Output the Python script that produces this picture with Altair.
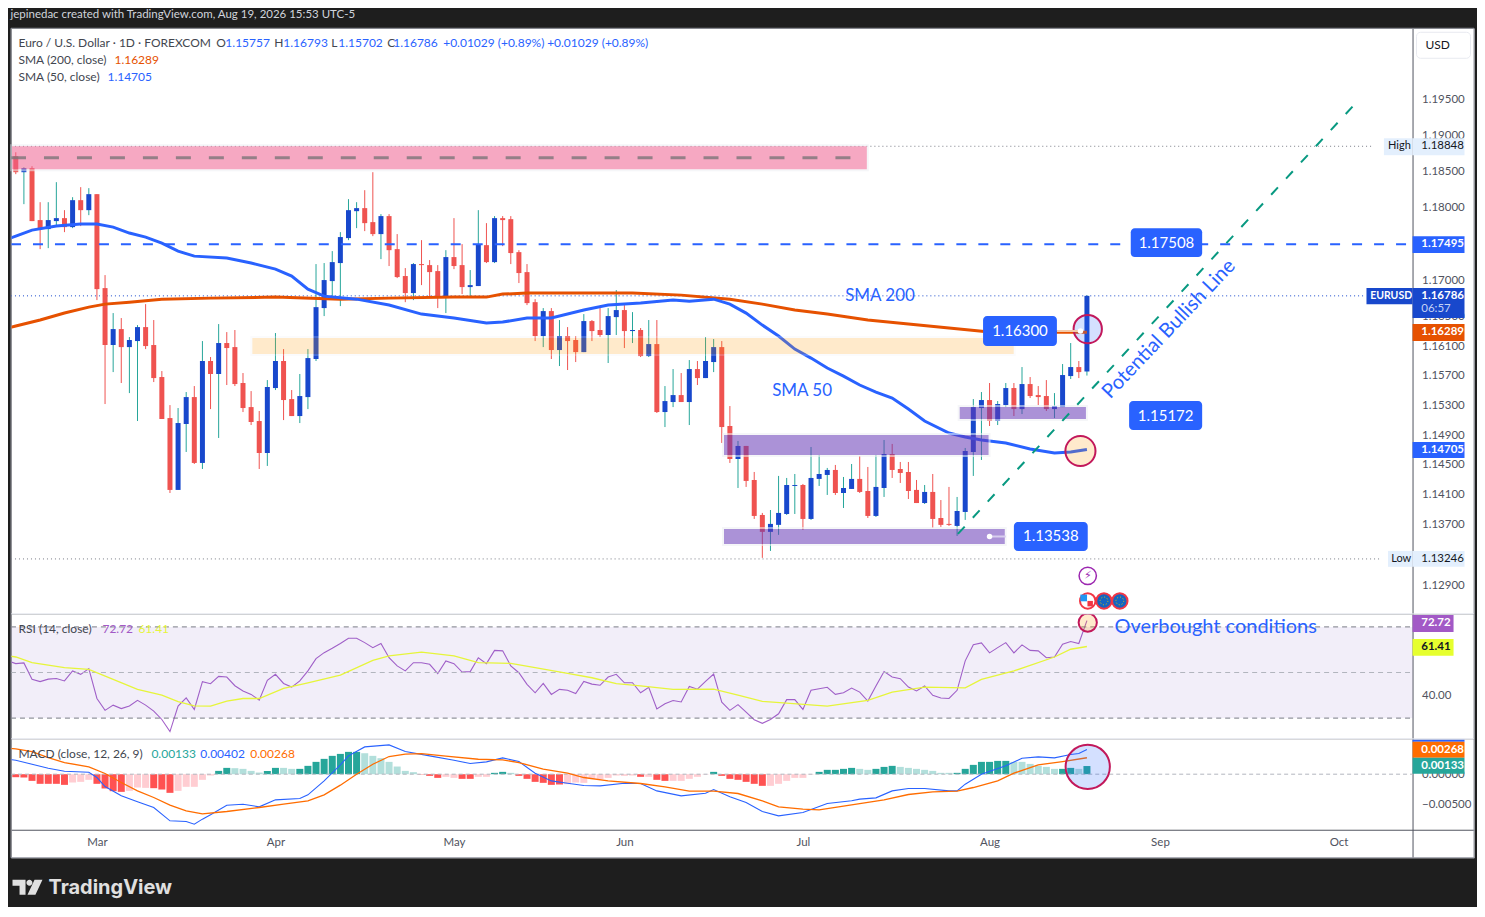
import altair as alt
import pandas as pd

FONT = "Lato"
BLUE = "#2962FF"; DBLUE = "#1848CC"; RED = "#EF5350"; TEAL = "#26A69A"; DARK = "#1E1E1E"
AX = "#50535E"; GREY = "#42464F"

first_bar = -10
opens = [1.18710,1.18488,1.18544,1.17826,1.17702,1.17812,1.17853,1.17729,1.18101,1.17963,
 1.18184,1.16892,1.16116,1.16333,1.16088,1.16170,1.16360,1.16116,1.15682,1.15128,
 1.14164,1.15048,1.15411,1.14525,1.15899,1.15723,1.16143,1.16088,1.15601,1.15276,
 1.15088,1.14658,1.15533,1.15899,1.15384,1.15155,1.15411,1.15926,1.16619,1.16988,
 1.17235,1.17578,1.17949,1.17991,1.17798,1.17633,1.17881,1.17426,1.17057,1.16824,
 1.17221,1.17207,1.17125,1.16769,1.17317,1.17207,1.16906,1.16920,1.17481,1.17248,
 1.17853,1.17839,1.17385,1.17111,1.16700,1.16238,1.16578,1.16048,1.16238,1.16184,
 1.16020,1.16442,1.16320,1.16252,1.16496,1.16592,1.16306,1.16320,1.15966,1.16129,
 1.15209,1.15344,1.15438,1.15344,1.15790,1.15668,1.15885,1.16088,1.15021,1.14578,
 1.14753,1.14297,1.13830,1.13605,1.13698,1.13843,1.14217,1.14230,1.13777,1.14311,
 1.14364,1.14431,1.14123,1.14177,1.14311,1.14150,1.13817,1.14190,1.14645,1.14444,
 1.14404,1.14164,1.13989,1.14137,1.13790,1.13711,1.13684,1.13870,1.14672,1.15263,
 1.15371,1.15088,1.15303,1.15533,1.15249,1.15587,1.15438,1.15425,1.15249,1.15276,
 1.15695,1.15817,1.15757]
highs = [1.18765,1.18557,1.18571,1.18073,1.18073,1.18350,1.17963,1.18142,1.18281,1.18267,
 1.18184,1.17070,1.16551,1.16483,1.16224,1.16387,1.16673,1.16456,1.15763,1.15303,
 1.15263,1.15479,1.15560,1.16170,1.15953,1.16401,1.16292,1.16320,1.15736,1.15492,
 1.15223,1.15641,1.16279,1.16061,1.15506,1.15723,1.16061,1.17221,1.17235,1.17399,
 1.17660,1.18115,1.18073,1.18239,1.18488,1.17908,1.17908,1.17633,1.17166,1.17235,
 1.17550,1.17276,1.17207,1.17412,1.17853,1.17495,1.17139,1.17963,1.17784,1.17881,
 1.17881,1.17881,1.17412,1.17221,1.16741,1.16619,1.16619,1.16456,1.16360,1.16238,
 1.16537,1.16456,1.16619,1.16619,1.16865,1.16660,1.16564,1.16347,1.16456,1.16456,
 1.15560,1.15790,1.15736,1.15912,1.15899,1.16224,1.16197,1.16170,1.15290,1.14820,
 1.14753,1.14404,1.13857,1.13896,1.14351,1.14324,1.14377,1.14244,1.14739,1.14632,
 1.14458,1.14498,1.14337,1.14511,1.14618,1.14471,1.14632,1.14833,1.14780,1.14538,
 1.14538,1.14297,1.14230,1.14377,1.14029,1.14204,1.14070,1.14726,1.15384,1.15479,
 1.15601,1.15357,1.15601,1.15601,1.15817,1.15682,1.15560,1.15641,1.15465,1.15858,
 1.16143,1.15899,1.16793]
lows = [1.18461,1.18046,1.17812,1.17426,1.17440,1.17743,1.17660,1.17715,1.17743,1.17894,
 1.16728,1.15317,1.15749,1.15601,1.15465,1.15088,1.16061,1.15614,1.15115,1.14123,
 1.14164,1.14672,1.14511,1.14444,1.15249,1.14860,1.15574,1.15560,1.15209,1.15034,
 1.14444,1.14485,1.15506,1.15101,1.15155,1.15061,1.15249,1.15899,1.16510,1.16782,
 1.16646,1.17550,1.17715,1.17674,1.17605,1.17289,1.17194,1.17029,1.16700,1.16728,
 1.16933,1.16769,1.16619,1.16551,1.17152,1.16810,1.16769,1.16920,1.17235,1.17235,
 1.17467,1.17221,1.16961,1.16660,1.16170,1.16088,1.15926,1.15831,1.15777,1.15885,
 1.16020,1.16170,1.16224,1.15872,1.16252,1.16075,1.16143,1.15953,1.15953,1.15196,
 1.15007,1.15276,1.15344,1.15034,1.15574,1.15668,1.15749,1.14793,1.14525,1.14190,
 1.14204,1.13777,1.13260,1.13352,1.13565,1.13830,1.13843,1.13631,1.13764,1.14217,
 1.14097,1.14097,1.13923,1.14177,1.14123,1.13790,1.13803,1.14070,1.14324,1.14257,
 1.14043,1.13989,1.13976,1.13658,1.13671,1.13684,1.13551,1.13764,1.14351,1.14565,
 1.15021,1.15034,1.15276,1.15155,1.15182,1.15398,1.15303,1.15223,1.15128,1.15276,
 1.15655,1.15668,1.15702]
closes = [1.18488,1.18544,1.17812,1.17702,1.17826,1.17853,1.17729,1.18101,1.17963,1.18184,
 1.16878,1.16116,1.16333,1.16088,1.16184,1.16360,1.16102,1.15668,1.15115,1.14164,
 1.15061,1.15411,1.14525,1.15899,1.15723,1.16143,1.16075,1.15587,1.15263,1.15075,
 1.14658,1.15546,1.15899,1.15371,1.15155,1.15425,1.15939,1.16632,1.17002,1.17248,
 1.17592,1.17963,1.17991,1.17784,1.17633,1.17881,1.17412,1.17043,1.16824,1.17221,
 1.17207,1.17111,1.16769,1.17317,1.17194,1.16906,1.16933,1.17495,1.17248,1.17853,
 1.17826,1.17372,1.17098,1.16687,1.16238,1.16578,1.16048,1.16238,1.16170,1.16020,
 1.16442,1.16306,1.16252,1.16510,1.16592,1.16306,1.16320,1.15966,1.16129,1.15209,
 1.15357,1.15438,1.15344,1.15790,1.15668,1.15899,1.16088,1.15007,1.14578,1.14753,
 1.14284,1.13817,1.13605,1.13711,1.13857,1.14230,1.14230,1.13777,1.14324,1.14377,
 1.14431,1.14123,1.14190,1.14311,1.14137,1.13817,1.14204,1.14645,1.14431,1.14391,
 1.14150,1.13989,1.14137,1.13777,1.13698,1.13698,1.13883,1.14685,1.15276,1.15371,
 1.15088,1.15317,1.15533,1.15249,1.15587,1.15425,1.15411,1.15249,1.15290,1.15709,
 1.15817,1.15749,1.16786]

sma200_i = [-11,-10,-7,-4,-1,1,4,8,14,22,30,36,44,48,50,53,60,66,72,78,82,86,90,95,100,105,110,122]
sma200_v = [1.16347,1.16374,1.16456,1.16551,1.16632,1.16673,1.16700,1.16741,1.16755,1.16769,1.16741,1.16755,1.16769,1.16769,
 1.16810,1.16824,1.16824,1.16824,1.16796,1.16741,1.16673,1.16592,1.16537,1.16456,1.16401,1.16347,1.16292,1.16289]
sma50_i = [-11,-10,-8,-5,-2,0,2,4,6,8,10,12,16,19,22,24,26,28,32,36,40,44,48,50,53,56,60,63,67,71,73,76,78,80,82,84,86,88,90,92,94,96,98,100,102,105,107,109,112,115,118,120,122]
sma50_v = [1.17564,1.17605,1.17688,1.17743,1.17771,1.17771,1.17729,1.17647,1.17592,1.17509,1.17399,1.17330,1.17303,1.17235,1.17152,1.17057,
 1.16878,1.16782,1.16741,1.16660,1.16537,1.16483,1.16415,1.16428,1.16483,1.16483,1.16592,1.16660,1.16687,1.16728,1.16714,1.16741,1.16673,
 1.16551,1.16387,1.16238,1.16061,1.15939,1.15804,1.15695,1.15574,1.15479,1.15398,1.15249,1.15088,1.14927,1.14873,1.14833,1.14793,1.14713,1.14658,1.14672,1.14705]

rsi_v = [55.1,53.9,54.2,47.0,46.0,47.1,47.4,46.3,50.7,49.2,51.7,38.6,33.4,35.7,34.2,35.3,37.8,35.7,33.1,29.4,24.1,35.3,38.9,33.8,46.0,45.1,48.3,48.0,44.2,41.9,40.4,37.9,46.6,49.2,45.2,43.6,46.3,50.7,56.1,58.7,60.6,62.7,65.0,65.0,63.1,60.9,62.7,56.5,52.9,50.7,54.3,54.3,53.6,49.5,55.1,53.9,50.2,50.4,56.5,53.9,59.7,59.5,52.9,49.9,44.8,41.1,45.2,40.4,42.6,42.2,
 40.8,46.1,44.9,44.4,48.0,49.2,45.5,45.5,41.1,43.5,34.0,36.3,37.7,37.1,43.9,42.7,46.1,49.3,37.0,33.4,35.9,32.6,29.3,27.7,29.4,31.9,38.1,38.1,33.8,42.2,42.9,43.5,40.4,41.1,43.2,41.4,37.5,44.1,50.4,48.0,47.3,43.6,41.9,44.1,40.0,38.8,38.6,42.2,55.1,62.2,63.0,58.6,60.9,63.1,58.6,62.1,59.7,59.5,56.5,56.8,62.4,63.6,62.7,72.72]
rsi_ma_i = [-11,-10,-8,-6,-4,-1,2,5,8,10,12,14,16,18,20,23,26,30,34,36,40,44,47,51,54,58,61,64,67,71,76,79,82,85,90,95,98,102,107,109,113,118,120,122]
rsi_ma_v = [57.3,56.8,54.3,53.2,52.1,51.4,47.0,42.6,40.1,37.2,35.4,35.3,37.5,38.6,38.6,43.0,45.5,48.9,55.3,57.3,58.9,57.3,54.3,54.0,52.1,49.6,47.7,45.1,44.1,42.6,42.7,40.1,37.3,36.6,35.3,37.8,41.4,43.6,43.3,47.0,50.7,56.8,60.2,61.41]

macd_i = [-11,-10,-8,-6,-4,-1,0,1,3,5,7,9,11,12,13,14,16,18,20,22,25,26,28,30,31,33,36,38,41,44,46,48,50,52,54,56,58,60,62,65,67,69,72,75,76,78,80,82,84,87,90,93,94,96,98,100,102,105,106,107,109,112,114,116,118,120,121,122]
macd_v = [.00244,.00228,.00163,.00098,.00049,.00033,-.00054,-.00201,-.00353,-.00451,-.00543,-.0076,-.00771,-.00815,-.00733,-.00662,-.00505,-.00489,-.00532,-.00418,-.00396,-.00337,-.00109,.00152,.00299,.00445,.00478,.00369,.00299,.00228,.00174,.00201,.00266,.00206,.00016,-.00109,-.00147,-.00185,-.0019,-.00147,-.00152,-.00272,-.00353,-.0031,-.0025,-.00369,-.00462,-.00608,-.00679,-.00624,-.00478,-.00434,-.00407,-.00386,-.00272,-.00233,-.00233,-.00272,-.00272,-.00163,0,.00136,.00261,.00282,.00266,.0032,.00337,.00402]
signal_i = [-11,-10,-8,-6,-4,-1,1,3,5,7,9,11,13,16,20,23,26,28,30,32,34,36,38,40,43,47,50,52,55,58,60,63,67,70,73,76,79,82,84,87,89,93,97,100,103,106,108,111,113,116,119,122]
signal_v = [.00423,.00413,.00369,.00272,.0019,.00119,.00011,-.00136,-.00272,-.0038,-.00505,-.00597,-.00646,-.00608,-.00543,-.00489,-.00434,-.00337,-.00179,0,.00163,.00288,.00326,.00337,.00293,.00244,.00233,.0019,.00081,.00016,-.00054,-.00109,-.00152,-.00206,-.00277,-.00277,-.00315,-.00434,-.00532,-.0057,-.00581,-.005,-.00418,-.00331,-.00288,-.00277,-.00217,-.00109,.00016,.00152,.00206,.00268]
hist_v = [-.00049,-.00054,-.00109,-.00157,-.00157,-.00157,-.00174,-.00136,-.00125,-.00092,-.00157,-.00233,-.00277,-.00288,-.00272,-.00217,-.00223,-.00228,-.0025,-.00304,-.00272,-.00206,-.00206,-.00092,-.00022,
 .00054,.00103,.00098,.00087,.00054,.00027,.00054,.00103,.00103,.00087,.00087,.00136,.00201,.0025,.00299,.00331,.00364,.00364,.00342,.00299,.00261,.00201,.00125,.00054,.00033,
 -.00005,-.00027,-.0006,-.00043,-.0006,-.00076,-.00076,-.00043,-.00043,.00022,.00038,.00022,-.00027,-.00076,-.00125,-.00141,-.00174,-.00168,-.00163,-.00136,-.00141,-.00081,-.00081,-.0006,-.00022,-.00027,-.00022,-.00043,-.00043,-.00092,-.00109,-.00109,-.00109,-.00076,-.00043,-.00005,
 .00038,-.00027,-.00076,-.00092,-.00125,-.00157,-.0019,-.0019,-.00157,-.00109,-.0006,-.0006,-.00005,.00038,.00071,.00071,.00087,.00103,.00087,.00071,.00087,.00119,.00136,.00119,.00103,.00087,.00071,.00054,.00022,.00022,.00022,.00087,.00152,.00201,.00201,.00217,.00217,.00201,.00201,.00168,.00136,.00119,.00087,.00087,.00103,.00087,.00133]
hist_shade = list("DDDDDDDLLLDDDDLLLDDDLLLLL" "DDLLLLDDLLDDDDDDDDLLLLLLL" "DDDLLDDLLDDLDDDDDDLLLLLLLLLDLDDLLLLL"
 "DDDDDDDLLLLLLDDDDDLLDDDLLLLLLLDDDDDDDLLLLLLDDLD")

month_ticks = [0,22,44,65,87,110,131,153]
month_names = ["Mar","Apr","May","Jun","Jul","Aug","Sep","Oct"]
price_ticks = [1.195,1.19,1.185,1.18,1.17,1.165,1.161,1.157,1.153,1.149,1.145,1.141,1.137,1.129]

W = 1464
X0 = 10.5
Y0 = 27
x_scale = alt.Scale(domain=[-10.59,169.7], nice=False, zero=False, padding=0)
p_scale = alt.Scale(type="log", domain=[1.1252,1.2050], nice=False, zero=False)
r_scale = alt.Scale(domain=[20.93,75.7], nice=False, zero=False)
m_scale = alt.Scale(domain=[-.01362,.00577], nice=False, zero=False)
AXIS_EDGE = 162.13
XMIN = -10.59
ONE = alt.Data(values=[{"a":1}])

def yaxis(values, fmt):
    return alt.Axis(orient="right", offset=-61.5, values=values, format=fmt, title=None, grid=False, ticks=False,
                    labelPadding=9, labelFont=FONT, labelFontSize=11.5, labelColor=AX, domainColor=AX, labelOverlap=False, labelFlush=False)

Y_AXES = {id(p_scale): yaxis(price_ticks, ".5f"), id(r_scale): yaxis([40], ".2f"), id(m_scale): yaxis([0,-.005], ".5f")}
month_axis = alt.Axis(orient="bottom", offset=-28, values=month_ticks, title=None, grid=False, ticks=False, labelPadding=7,
                      labelFont=FONT, labelFontSize=11.5, labelColor=AX, domainColor=AX, labelFlush=False,
                      labelExpr="%s[indexof(%s, datum.value)]" % (month_names, month_ticks))

def X(f="i:Q", sc=None):
    return alt.X(f, scale=x_scale, axis=month_axis if sc is m_scale else None)

def Y(f, sc):
    return alt.Y(f, scale=sc, axis=Y_AXES[id(sc)])

def frame_text(t, x, y, base, color=GREY, size=12, weight="normal", align="left", font=FONT):
    return alt.Chart(ONE).mark_text(text=t, color=color, fontSize=size, fontWeight=weight, align=align, baseline="middle", font=font).encode(
        x=alt.value(x-X0), y=alt.value(y-base))

def data_text(t, i, v, sc, color=BLUE, size=12, weight="normal", align="center", angle=0, font=FONT):
    d = pd.DataFrame({"i":[i],"v":[v]})
    return alt.Chart(d).mark_text(text=t, color=color, fontSize=size, fontWeight=weight, align=align, baseline="middle", angle=angle, font=font).encode(
        X(sc=sc), Y("v:Q", sc))

def rect(i0, i1, v0, v1, sc, color, opacity=1.0, radius=0, stroke=None):
    d = pd.DataFrame({"i":[i0],"i2":[i1],"v":[v0],"v2":[v1]})
    kw = dict(color=color, opacity=opacity, cornerRadius=radius)
    if stroke:
        kw.update(stroke=stroke, strokeWidth=2, strokeOpacity=1)
    return alt.Chart(d).mark_rect(**kw).encode(X(sc=sc), alt.X2("i2:Q"), Y("v:Q", sc), alt.Y2("v2:Q"))

def hline(v, sc, color, dash, width=1, i0=XMIN, i1=AXIS_EDGE, opacity=1.0):
    d = pd.DataFrame({"i":[i0],"i2":[i1],"v":[v]})
    return alt.Chart(d).mark_rule(color=color, strokeDash=dash, strokeWidth=width, opacity=opacity).encode(
        X(sc=sc), alt.X2("i2:Q"), Y("v:Q", sc))

def line(idx, vals, sc, color, width):
    d = pd.DataFrame({"i":idx,"v":vals})
    return alt.Chart(d).mark_line(color=color, strokeWidth=width, clip=True, interpolate="linear").encode(
        X(sc=sc), Y("v:Q", sc))

def dot(i, v, sc, size, fill=None, stroke=None, sw=2, fo=1.0, shape="circle", dash=None, clip=False):
    d = pd.DataFrame({"i":[i],"v":[v]})
    kw = dict(shape=shape, size=size, opacity=1, clip=clip, filled=True, fillOpacity=fo)
    kw["fill"] = fill if fill else "transparent"
    if stroke:
        kw.update(stroke=stroke, strokeWidth=sw)
    if dash:
        kw.update(strokeDash=dash)
    return alt.Chart(d).mark_point(**kw).encode(X(sc=sc), Y("v:Q", sc))

def pix_rule(x1, x2, y1, y2, color, width=1):
    return alt.Chart(ONE).mark_rule(color=color, strokeWidth=width).encode(
        x=alt.value(x1), x2=alt.value(x2), y=alt.value(y1), y2=alt.value(y2))

idx = list(range(first_bar, first_bar+len(opens)))
candles = pd.DataFrame({"i":idx,"o":opens,"h":highs,"l":lows,"c":closes})
is_up = "datum.c >= datum.o"

P_H = 586
wick = alt.Chart(candles).mark_rule(strokeWidth=1).encode(
    X(), Y("l:Q", p_scale), alt.Y2("h:Q"),
    color=alt.condition(is_up, alt.value(TEAL), alt.value(RED)))
body = alt.Chart(candles).mark_bar(size=5, orient="vertical").encode(
    X(), Y("o:Q", p_scale), alt.Y2("c:Q"),
    color=alt.condition(is_up, alt.value(DBLUE), alt.value(RED)))

price_panel = alt.layer(
    pix_rule(-2, -2, -18.5, 0, DARK),
    pix_rule(-2, W+2, -18.5, -18.5, DARK),
    hline(1.18848, p_scale, "#787B86", [1,3], i1=157.3),
    hline(1.13246, p_scale, "#787B86", [1,3], i1=158),
    hline(1.16786, p_scale, DBLUE, [1,3], i1=156.4),
    wick, body,
    line(sma200_i, sma200_v, p_scale, "#E65100", 3),
    line(sma50_i, sma50_v, p_scale, "#2962FF", 3),
    rect(XMIN, 95.0, 1.18862, 1.18516, p_scale, "#F06292", .55, stroke="#EEF0F4"),
    rect(19.03, 113.1, 1.16224, 1.15980, p_scale, "#FF9800", .2, stroke="#EEF0F4"),
    rect(77.15, 110.0, 1.14913, 1.14618, p_scale, "#673AB7", .55, stroke="#EEF0F4"),
    rect(106.2, 122.0, 1.15290, 1.15101, p_scale, "#673AB7", .55, stroke="#EEF0F4"),
    rect(77.15, 112.0, 1.13658, 1.13432, p_scale, "#673AB7", .55, stroke="#EEF0F4"),
    hline(1.18687, p_scale, "#7C7478", [15,18], 3, i1=95.0, opacity=.8),
    hline(1.17495, p_scale, BLUE, [10,12], 2, i1=161.8),
    alt.Chart(pd.DataFrame({"i":[106.1,155.0],"v":[1.13578,1.19434]})).mark_line(color="#089981", strokeWidth=2, strokeDash=[10,12]).encode(
        X(), Y("v:Q", p_scale)),
    dot(122.1, 1.16333, p_scale, 804, fill=BLUE, stroke="#C2185B", fo=.2),
    dot(121.2, 1.14685, p_scale, 908, fill="#FF9800", stroke="#C2185B", fo=.2),
    hline(1.16306, p_scale, "#F3C9A8", [1,0], 2, i0=118.3, i1=121.2),
    dot(121.2, 1.16306, p_scale, 30, fill="white"),
    hline(1.13545, p_scale, "#D8CEEE", [1,0], 2, i0=110.0, i1=112.0),
    dot(110.0, 1.13545, p_scale, 30, fill="white"),
    rect(109.2, 118.3, 1.16510, 1.16102, p_scale, BLUE, radius=4),
    data_text("1.16300", 113.75, 1.16306, p_scale, "white", 15),
    rect(127.4, 136.2, 1.17715, 1.17317, p_scale, BLUE, radius=4),
    data_text("1.17508", 131.8, 1.17516, p_scale, "white", 15),
    rect(127.2, 136.2, 1.15357, 1.14967, p_scale, BLUE, radius=4),
    data_text("1.15172", 131.7, 1.15162, p_scale, "white", 15),
    rect(113.0, 122.1, 1.13737, 1.13352, p_scale, BLUE, radius=4),
    data_text("1.13538", 117.55, 1.13545, p_scale, "white", 15),
    data_text("SMA 200", 96.5, 1.16782, p_scale, BLUE, 17),
    data_text("SMA 50", 86.9, 1.15492, p_scale, BLUE, 17),
    data_text("Potential Bullish Line", 132.1, 1.16333, p_scale, BLUE, 20, angle=313.5),
    # event icons
    dot(122.1, 1.13022, p_scale, 300, fill="white", stroke="#9C27B0", sw=1.5),
    data_text("\u26A1", 122.1, 1.13022, p_scale, "#9C27B0", 11, font="DejaVu Sans"),
    dot(122.1, 1.12691, p_scale, 240, fill="white", stroke="#F23645", sw=2),
    dot(121.6, 1.12730, p_scale, 45, fill="#2196F3", shape="square"),
    dot(122.4, 1.12655, p_scale, 30, fill="#F23645", shape="square"),
    dot(124.1, 1.12691, p_scale, 240, fill="#1565C0", stroke="#F23645", sw=2),
    dot(124.1, 1.12691, p_scale, 60, fill="transparent", stroke="#E6C200", sw=1, dash=[1,2]),
    dot(126.05, 1.12691, p_scale, 240, fill="#1565C0", stroke="#F23645", sw=2),
    dot(126.05, 1.12691, p_scale, 60, fill="transparent", stroke="#E6C200", sw=1, dash=[1,2]),
    # price tags
    rect(158.6, AXIS_EDGE, 1.18959, 1.18724, p_scale, "#E3EFFD"),
    rect(AXIS_EDGE, 168.53, 1.18959, 1.18724, p_scale, "#E3EFFD"),
    data_text("High", 159.1, 1.18848, p_scale, "#131722", 11, align="left"),
    data_text("1.18848", 163.2, 1.18848, p_scale, "#131722", 11.5, align="left"),
    rect(AXIS_EDGE, 168.53, 1.17605, 1.17372, p_scale, BLUE),
    data_text("1.17495", 163.2, 1.17495, p_scale, "white", 11.5, "bold", align="left"),
    rect(156.45, AXIS_EDGE, 1.16892, 1.16673, p_scale, DBLUE),
    data_text("EURUSD", 156.9, 1.16782, p_scale, "white", 10.5, "bold", align="left"),
    rect(AXIS_EDGE, 168.53, 1.16892, 1.16483, p_scale, DBLUE),
    data_text("1.16786", 163.2, 1.16782, p_scale, "white", 11.5, "bold", align="left"),
    data_text("06:57", 163.2, 1.16605, p_scale, "#C4D2F5", 11.5, align="left"),
    rect(AXIS_EDGE, 168.53, 1.16401, 1.16170, p_scale, "#E65100"),
    data_text("1.16289", 163.2, 1.16289, p_scale, "white", 11.5, "bold", align="left"),
    rect(AXIS_EDGE, 168.53, 1.14806, 1.14591, p_scale, BLUE),
    data_text("1.14705", 163.2, 1.14705, p_scale, "white", 11.5, "bold", align="left"),
    rect(159.1, AXIS_EDGE, 1.13352, 1.13141, p_scale, "#E3EFFD"),
    rect(AXIS_EDGE, 168.53, 1.13352, 1.13141, p_scale, "#E3EFFD"),
    data_text("Low", 159.5, 1.13246, p_scale, "#131722", 11, align="left"),
    data_text("1.13246", 163.2, 1.13246, p_scale, "#131722", 11.5, align="left"),
    # USD button
    alt.Chart(ONE).mark_rect(fill="white", stroke="#E8EAF0", strokeWidth=1, cornerRadius=4).encode(
        x=alt.value(1417-X0), x2=alt.value(1471-X0), y=alt.value(31-Y0), y2=alt.value(57-Y0)),
    frame_text("USD", 1426, 44, Y0, "#131722", 12),
    # status lines
    frame_text("jepinedac created with TradingView.com, Aug 19, 2026 15:53 UTC-5", 10, 14, Y0, "#D1D4DC", 11.5),
    frame_text("Euro / U.S. Dollar \u00B7 1D \u00B7 FOREXCOM", 18, 42, Y0),
    frame_text("O", 216, 42, Y0), frame_text("1.15757", 225, 42, Y0, BLUE),
    frame_text("H", 274, 42, Y0), frame_text("1.16793", 283, 42, Y0, BLUE),
    frame_text("L", 331, 42, Y0), frame_text("1.15702", 338, 42, Y0, BLUE),
    frame_text("C", 387, 42, Y0), frame_text("1.16786", 393, 42, Y0, BLUE),
    frame_text("+0.01029 (+0.89%)", 443, 42, Y0, BLUE),
    frame_text("+0.01029 (+0.89%)", 547, 42, Y0, BLUE),
    frame_text("SMA (200, close)", 18, 59, Y0), frame_text("1.16289", 114, 59, Y0, "#E65100"),
    frame_text("SMA (50, close)", 18, 76, Y0), frame_text("1.14705", 107, 76, Y0, BLUE),
    pix_rule(0, 0, 0, P_H, "#9598A1"),
    pix_rule(W, W, 0, P_H, "#9598A1"),
    pix_rule(0, W, 0, 0, "#9598A1"),
).properties(width=W, height=P_H)

R_H = 125
rsi_df = pd.DataFrame({"i":list(range(-11,123)),"v":rsi_v})
rsi_line = alt.Chart(rsi_df).mark_line(color="#A461C9", strokeWidth=1.1, clip=True).encode(
    X(), Y("v:Q", r_scale))
rsi_panel = alt.layer(
    rsi_line,
    rect(XMIN, AXIS_EDGE, 70, 30, r_scale, "#7E57C2", .1),
    hline(70, r_scale, "#787B86", [5,4]),
    hline(50, r_scale, "#B2B5BE", [5,4]),
    hline(30, r_scale, "#787B86", [5,4]),
    line(rsi_ma_i, rsi_ma_v, r_scale, "#E6F53A", 1.3),
    dot(122.1, 71.9, r_scale, 333, fill="#FF9800", stroke="#C2185B", fo=.2, clip=True),
    data_text("Overbought conditions", 125.4, 70, r_scale, BLUE, 20, align="left"),
    rect(AXIS_EDGE, 167.18, 75.26, 67.8, r_scale, "#A259C6"),
    data_text("72.72", 163.2, 71.5, r_scale, "white", 11.5, "bold", align="left"),
    rect(AXIS_EDGE, 167.18, 64.7, 57.3, r_scale, "#E6FF2E"),
    data_text("61.41", 163.2, 61.0, r_scale, "#131722", 11.5, "bold", align="left"),
    frame_text("RSI (14, close)", 18, 628, 613),
    frame_text("72.72", 102, 628, 613, "#A259C6"),
    frame_text("61.41", 138, 628, 613, "#E6F53A"),
    pix_rule(0, W, 0, 0, "#E0E3EB"),
    pix_rule(0, 0, 0, R_H, "#9598A1"),
    pix_rule(W, W, 0, R_H, "#9598A1"),
).properties(width=W, height=R_H)

M_H = 119
hist_df = pd.DataFrame({"i":idx,"v":hist_v,"s":hist_shade})
hist_df["k"] = [("p" if v >= 0 else "n") + s for v, s in zip(hist_v, hist_shade)]
hist_df["zero"] = 0.0
hist = alt.Chart(hist_df).mark_bar(size=7, orient="vertical").encode(
    X(sc=m_scale),
    Y("zero:Q", m_scale), alt.Y2("v:Q"),
    color=alt.Color("k:N", scale=alt.Scale(domain=["pD","pL","nD","nL"], range=["#26A69A","#B2DFDB","#FF5252","#FFCDD2"]), legend=None))
macd_panel = alt.layer(
    hist,
    hline(0, m_scale, "#B2B5BE", [4,3]),
    line(macd_i, macd_v, m_scale, "#2962FF", 1.1),
    line(signal_i, signal_v, m_scale, "#FF6D00", 1.3),
    dot(122.1, .0012, m_scale, 1963, fill=BLUE, stroke="#C2185B", fo=.2),
    rect(AXIS_EDGE, 168.53, .0056, .00528, m_scale, BLUE),
    rect(AXIS_EDGE, 168.53, .00528, .00267, m_scale, "#FF6D00"),
    data_text("0.00268", 163.2, .00389, m_scale, "white", 11.5, "bold", align="left"),
    rect(AXIS_EDGE, 168.53, .00267, .00007, m_scale, TEAL),
    data_text("0.00133", 163.2, .00137, m_scale, "white", 11.5, "bold", align="left"),
    frame_text("MACD (close, 12, 26, 9)", 18, 753, 738),
    frame_text("0.00133", 151, 753, 738, TEAL),
    frame_text("0.00402", 200, 753, 738, BLUE),
    frame_text("0.00268", 250, 753, 738, "#FF6D00"),
    pix_rule(0, W, 0, 0, "#E0E3EB"),
    pix_rule(0, 0, 0, M_H, "#9598A1"),
    pix_rule(W, W, 0, M_H, "#9598A1"),
    pix_rule(0, W, M_H, M_H, "#9598A1"),
    alt.Chart(ONE).mark_point(
        shape="M-1 -.53L-.13 -.53L-.13 .47L-.53 .47L-.53 -.13L-1 -.13Z M-.07 -.33A.2 .2 0 1 1 .33 -.33A.2 .2 0 1 1 -.07 -.33Z M.47 -.53L1 -.53L.53 .47L0 .47Z",
        size=900, filled=True, fill="#E0E0E0", opacity=1, stroke="transparent").encode(x=alt.value(27-X0), y=alt.value(887-738)),
    frame_text("TradingView", 48, 887, 738, "#E0E0E0", 20, "bold", font="Inter"),
    pix_rule(W+2, W+2, M_H, 167, DARK),
).properties(width=W, height=M_H)

chart = alt.vconcat(price_panel, rsi_panel, macd_panel, spacing=0, bounds="flush").properties(
    background=DARK, padding=0
).configure_view(fill="white", stroke="transparent")

chart.save("out.html", embed_options={"renderer": "svg", "actions": False})
